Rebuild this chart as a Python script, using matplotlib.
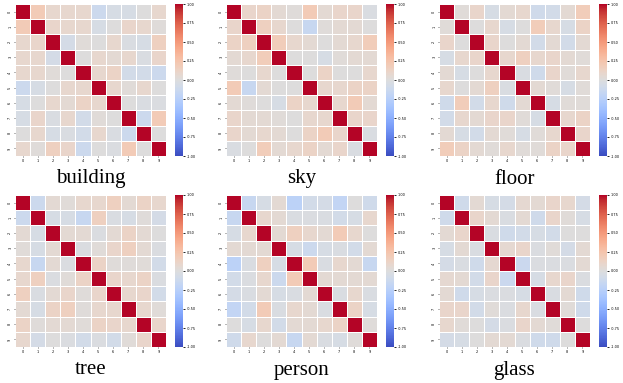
import numpy as np
import matplotlib
matplotlib.use('Agg')
import matplotlib.pyplot as plt

# upper triangles (row i, cols i+1..9)
names = ['building', 'sky', 'floor', 'tree', 'person', 'glass']

building = [
    [0.20, 0.08, 0.08, 0.08, -0.12, -0.05, -0.05, 0.00, 0.08],
    [0.10, 0.08, 0.08, -0.05, 0.00, 0.10, 0.08, 0.02],
    [-0.07, 0.03, 0.00, 0.08, -0.03, -0.05, 0.15],
    [0.00, 0.08, 0.05, 0.08, -0.03, 0.10],
    [0.08, 0.12, -0.08, -0.08, -0.12],
    [0.08, 0.03, 0.08, 0.00],
    [0.00, -0.03, -0.02],
    [-0.12, 0.20],
    [0.00],
]
sky = [
    [0.10, 0.12, 0.05, 0.02, 0.20, 0.05, 0.10, 0.10, -0.03],
    [0.15, 0.08, 0.00, -0.15, 0.02, 0.05, 0.05, 0.00],
    [0.18, 0.08, 0.05, 0.00, 0.05, 0.08, 0.18],
    [0.00, 0.00, -0.05, 0.03, 0.05, 0.05],
    [0.00, 0.12, 0.00, 0.00, 0.08],
    [0.08, 0.08, 0.12, 0.12],
    [0.08, 0.20, 0.05],
    [0.10, 0.10],
    [-0.03],
]
floor = [
    [0.03, 0.10, -0.05, 0.05, 0.08, -0.10, -0.08, 0.05, 0.18],
    [0.00, 0.08, -0.05, 0.00, 0.18, 0.08, -0.05, 0.12],
    [0.10, 0.00, 0.05, -0.08, 0.05, -0.08, 0.05],
    [0.08, 0.15, 0.08, 0.10, 0.05, 0.03],
    [-0.03, -0.10, 0.10, 0.03, 0.08],
    [0.05, 0.03, -0.05, 0.03],
    [-0.05, 0.03, 0.03],
    [0.08, 0.12],
    [0.10],
]
tree = [
    [-0.12, 0.05, 0.03, 0.08, 0.08, 0.15, 0.05, 0.12, 0.08],
    [-0.05, -0.05, -0.15, 0.15, -0.03, -0.05, 0.02, -0.07],
    [0.05, 0.05, -0.02, 0.05, 0.12, 0.05, 0.00],
    [-0.02, 0.03, 0.10, 0.15, 0.05, -0.02],
    [0.12, 0.02, 0.02, 0.03, -0.08],
    [0.10, 0.08, 0.12, -0.02],
    [0.08, 0.10, -0.08],
    [0.08, 0.03],
    [0.10],
]
person = [
    [-0.15, -0.05, 0.05, -0.22, -0.08, -0.07, -0.18, 0.00, -0.10],
    [0.08, 0.05, -0.03, -0.02, -0.03, -0.08, -0.05, 0.08],
    [0.05, 0.15, 0.08, 0.05, 0.20, 0.08, 0.00],
    [-0.05, -0.12, -0.05, -0.03, -0.08, 0.05],
    [0.20, -0.03, 0.08, 0.05, -0.15],
    [0.05, 0.05, 0.05, 0.05],
    [-0.03, 0.08, -0.03],
    [0.12, -0.05],
    [0.02],
]
glass = [
    [-0.10, 0.05, -0.05, -0.07, 0.07, 0.05, 0.10, 0.08, -0.07],
    [0.10, 0.05, -0.03, 0.05, -0.10, 0.10, 0.03, -0.05],
    [-0.03, -0.10, -0.08, -0.05, -0.08, 0.00, 0.00],
    [0.07, 0.10, -0.02, 0.03, -0.07, 0.05],
    [-0.13, -0.02, -0.02, -0.02, 0.05],
    [-0.05, 0.08, 0.10, -0.02],
    [-0.03, 0.05, -0.10],
    [0.03, -0.10],
    [0.00],
]
tables = [building, sky, floor, tree, person, glass]
ticks = [str(i) for i in range(10)]
cbar_ticks = [-1.0, -0.75, -0.5, -0.25, 0.0, 0.25, 0.5, 0.75, 1.0]


def full(up):
    m = np.eye(10)
    for i, row in enumerate(up):
        for k, v in enumerate(row):
            m[i, i + 1 + k] = v
            m[i + 1 + k, i] = v
    return m


W, H = 623, 383
fig = plt.figure(figsize=(W / 100, H / 100), dpi=100)
lefts = [15, 226, 439]
tops = [4, 195]
hw, hh = 151, 152
for n, (name, up) in enumerate(zip(names, tables)):
    r, c = divmod(n, 3)
    x0, y0 = lefts[c], tops[r]
    ax = fig.add_axes([x0 / W, 1 - (y0 + hh) / H, hw / W, hh / H])
    cax = fig.add_axes([(x0 + 160) / W, 1 - (y0 + hh) / H, 8 / W, hh / H])
    m = full(up)
    pc = ax.pcolormesh(m, cmap='coolwarm', vmin=-1, vmax=1,
                       edgecolors='white', linewidth=0.55)
    ax.set_xlim(0, 10)
    ax.set_ylim(10, 0)
    ax.set_xticks(np.arange(10) + 0.5)
    ax.set_yticks(np.arange(10) + 0.5)
    ax.set_xticklabels(ticks, fontsize=2.5)
    ax.set_yticklabels(ticks, fontsize=2.5, rotation=90, va='center')
    ax.tick_params(length=1, width=0.4, pad=1)
    for s in ax.spines.values():
        s.set_visible(False)
    cb = fig.colorbar(pc, cax=cax, ticks=cbar_ticks)
    cb.outline.set_visible(False)
    cb.ax.tick_params(labelsize=2.5, length=1.5, width=0.6, pad=1)
    cb.ax.set_yticklabels([f'{t:.2f}' for t in cbar_ticks])
    fig.text((x0 + hw / 2) / W, 1 - (y0 + 175) / H, name,
             ha='center', va='center', fontsize=15,
             family='Liberation Serif')

fig.savefig('out.png', dpi=100)
